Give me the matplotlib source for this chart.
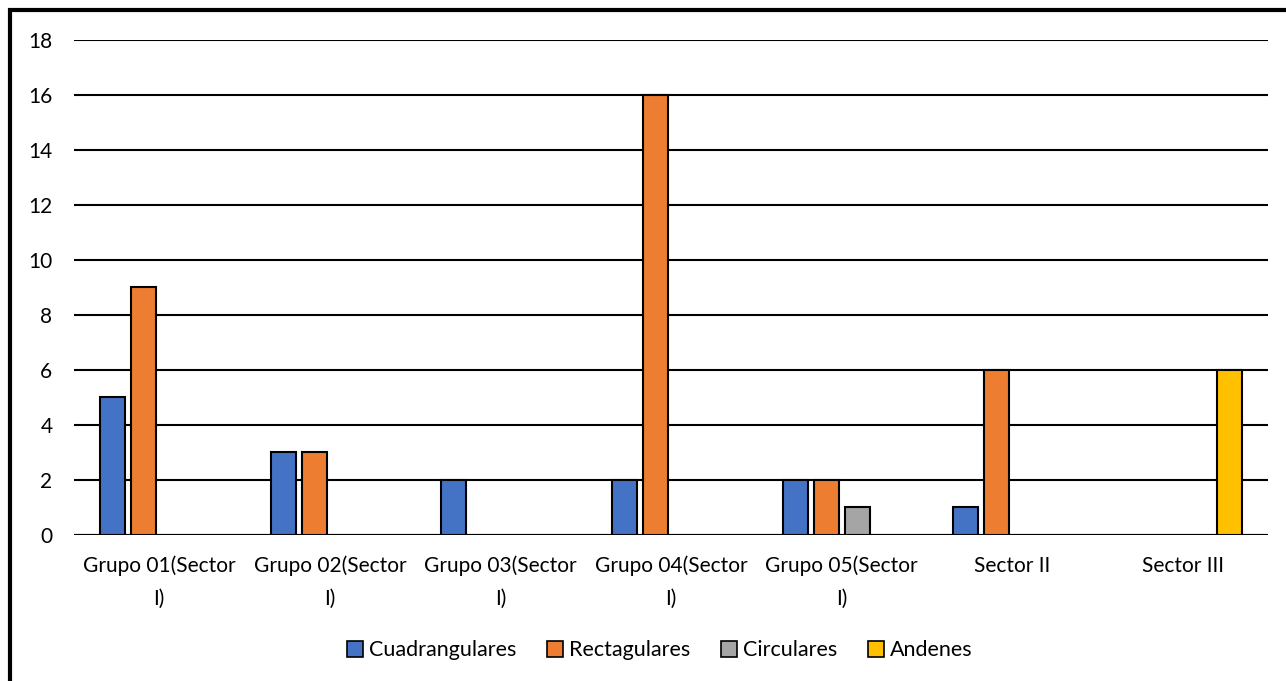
import numpy as np
import matplotlib.pyplot as plt
from matplotlib.patches import Rectangle

categories = ['Grupo 01(Sector\nI)', 'Grupo 02(Sector\nI)', 'Grupo 03(Sector\nI)',
              'Grupo 04(Sector\nI)', 'Grupo 05(Sector\nI)', 'Sector II', 'Sector III']
cuadrangulares = [5, 3, 2, 2, 2, 1, 0]
rectagulares = [9, 3, 0, 16, 2, 6, 0]
circulares = [0, 0, 0, 0, 1, 0, 0]
andenes = [0, 0, 0, 0, 0, 0, 6]

series = [
    ('Cuadrangulares', cuadrangulares, '#4472C4'),
    ('Rectagulares', rectagulares, '#ED7D31'),
    ('Circulares', circulares, '#A5A5A5'),
    ('Andenes', andenes, '#FFC000'),
]

plt.rcParams['font.family'] = ['Lato', 'DejaVu Sans']

fig = plt.figure(figsize=(12.86, 6.81), dpi=100)
ax = fig.add_axes([0.0575, 0.2144, 0.9285, 0.7269])

x = np.arange(len(categories))
width = 0.1465
step = 0.1817

for i, (name, vals, color) in enumerate(series):
    vals = np.array(vals, dtype=float)
    pos = x + (i - 1.5) * step
    mask = vals > 0
    ax.bar(pos[mask], vals[mask], width, color=color, edgecolor='black',
           linewidth=1.5, zorder=3)
    # legend proxy
    ax.bar([np.nan], [np.nan], width, color=color, edgecolor='black',
           linewidth=1.2, label=name)

ax.set_xlim(-0.5, len(categories) - 0.5)
ax.set_ylim(0, 18)
ax.set_yticks(np.arange(0, 19, 2))
ax.yaxis.grid(True, color='black', linewidth=1.5, zorder=0)
ax.set_axisbelow(True)
for s in ax.spines.values():
    s.set_visible(False)
ax.axhline(0, color='black', linewidth=1.5, zorder=2)
ax.tick_params(axis='both', length=0, labelsize=15, colors='black')
ax.tick_params(axis='y', pad=15.5)
ax.tick_params(axis='x', pad=15)
ax.set_xticks(x)
ax.set_xticklabels(categories, linespacing=1.75)

ax.legend(loc='center', bbox_to_anchor=(0.4905, -0.233), ncol=4, frameon=False,
          fontsize=15.5, handlelength=0.75, handleheight=0.75, handletextpad=0.25,
          columnspacing=1.45)

# outer chart border (only top/left visible in the crop)
fig.patches.append(Rectangle((10 / 1286, -0.1), 1.2, 1 - 10 / 681 + 0.1,
                             transform=fig.transFigure, fill=False,
                             edgecolor='black', linewidth=3))

fig.savefig('out.png', dpi=100)
